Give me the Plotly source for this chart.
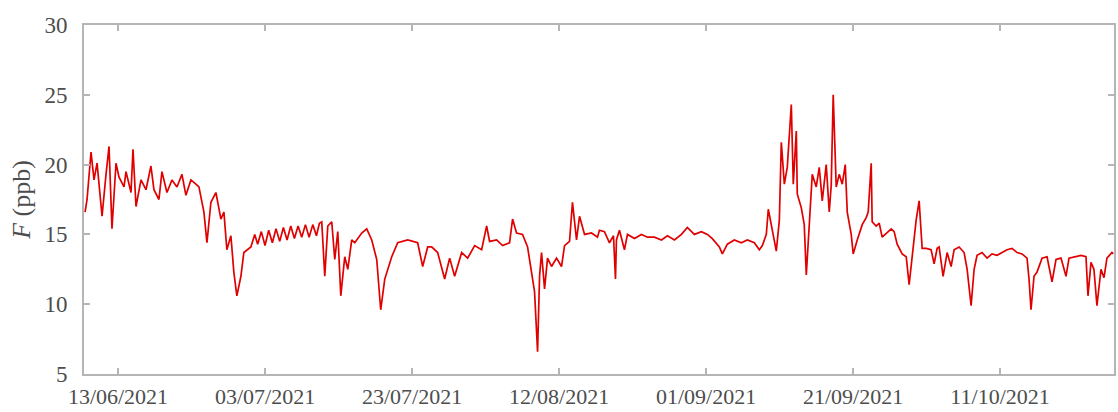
import pandas as pd
import plotly.graph_objects as go

# Time axis: offsets in days from 13/06/2021 00:00
day_offset = [
    -4.48, -4.21, -3.67, -3.26, -2.85, -2.17, -1.63, -1.22, -0.82, -0.27,
    0.14, 0.82, 1.09, 1.77, 2.04, 2.45, 3.13, 3.81, 4.48, 4.89,
    5.57, 5.98, 6.66, 7.34, 8.02, 8.70, 9.24, 9.92, 10.60, 11.01,
    11.69, 12.10, 12.64, 13.32, 14.00, 14.41, 14.81, 15.36, 15.76, 16.17,
    16.72, 17.12, 18.08, 18.60,
    19.00, 19.50, 20.00, 20.50, 21.00, 21.50, 22.00, 22.50, 23.00, 23.50,
    24.00, 24.50, 25.00, 25.50, 26.00, 26.50, 27.00, 27.40,
    27.72, 28.13, 28.54, 29.08, 29.49, 29.90, 30.31, 30.85, 31.26, 31.80,
    32.21, 33.16, 33.84, 34.52, 35.20, 35.74, 36.29, 37.24, 38.05, 39.41,
    40.77, 41.45, 42.13,
    42.67, 43.49, 44.44, 45.12, 45.80, 46.75, 47.57, 48.52, 49.47, 50.15,
    50.55, 51.51, 52.32, 53.27, 53.68, 54.22, 55.04, 55.72, 56.26, 56.67,
    57.08, 57.35, 57.62, 58.03, 58.44, 58.98, 59.66, 60.34, 60.75, 61.43,
    61.83, 62.38, 62.79, 63.47, 64.42, 65.23,
    65.50, 66.18, 66.86, 67.41, 67.68, 67.81, 68.22, 68.90, 69.31, 70.26,
    71.21, 72.03, 72.98, 73.93, 74.75, 75.70, 76.65, 77.46, 78.41, 79.37,
    80.18, 80.86, 81.81, 82.22, 82.90, 83.85, 84.80, 85.62, 86.57, 87.25,
    87.66, 88.20, 88.47,
    89.01, 89.56, 89.97, 90.24, 90.65, 91.05, 91.60, 91.87, 92.28, 92.41,
    92.96, 93.36, 93.64, 94.04, 94.45, 94.99, 95.40, 95.81, 96.35, 96.76,
    97.03, 97.30, 97.71, 98.12, 98.53, 98.94, 99.21, 99.75, 100.02, 100.57,
    101.25, 101.79, 102.06, 102.47, 102.60, 103.15, 103.56, 103.96, 104.51, 105.19,
    105.59, 106.00, 106.68, 107.23, 107.63, 108.04, 108.58, 108.99, 109.40, 109.94,
    110.62, 111.03, 111.44,
    111.71, 112.25, 112.80, 113.34, 113.75, 114.43, 115.11, 115.52, 116.06, 116.47,
    116.87, 117.55, 118.23, 118.91, 119.59, 120.27, 120.95, 121.63, 122.31, 122.99,
    123.67, 123.94, 124.21, 124.62, 125.03, 125.71, 126.39, 127.07, 127.61, 128.29,
    128.97, 129.38, 130.06, 131.01, 131.69, 131.96, 132.37, 132.77, 133.18, 133.73,
    134.14, 134.54, 135.22, 135.40,
]

# F (ppb) values
F_ppb = [
    16.6, 17.5, 20.9, 18.9, 20.1, 16.3, 19.3, 21.3, 15.4, 20.1,
    19.1, 18.4, 19.5, 18.0, 21.1, 17.0, 18.9, 18.2, 19.9, 18.2,
    17.5, 19.5, 18.0, 18.9, 18.4, 19.3, 17.8, 18.9, 18.6, 18.4,
    16.6, 14.4, 17.3, 18.0, 16.1, 16.6, 13.9, 14.9, 12.3, 10.6,
    12.0, 13.7, 14.1, 15.0,
    14.3, 15.2, 14.2, 15.3, 14.4, 15.4, 14.5, 15.5, 14.6, 15.6,
    14.7, 15.6, 14.8, 15.7, 14.8, 15.7, 14.9, 15.8,
    15.9, 12.0, 15.6, 15.9, 13.2, 15.2, 10.6, 13.4, 12.5, 14.6,
    14.4, 15.1, 15.4, 14.6, 13.2, 9.6, 11.8, 13.4, 14.4, 14.6,
    14.4, 12.7, 14.1,
    14.1, 13.7, 11.8, 13.3, 12.0, 13.7, 13.3, 14.2, 13.9, 15.6,
    14.5, 14.6, 14.2, 14.4, 16.1, 15.1, 15.0, 14.1, 12.3, 10.9,
    6.6, 12.0, 13.7, 11.1, 13.3, 12.7, 13.3, 12.7, 14.2, 14.5,
    17.3, 14.6, 16.3, 15.0, 15.1, 14.8,
    15.3, 15.2, 14.4, 14.9, 11.8, 14.6, 15.3, 13.9, 15.0, 14.7,
    15.0, 14.8, 14.8, 14.6, 14.9, 14.6, 15.0, 15.5, 15.0, 15.2,
    15.0, 14.7, 14.1, 13.6, 14.3, 14.6, 14.4, 14.6, 14.4, 13.9,
    14.2, 15.0, 16.8,
    15.4, 13.8, 16.0, 21.6, 18.6, 19.8, 24.3, 18.6, 22.4, 17.9,
    16.9, 15.7, 12.1, 15.7, 19.3, 18.4, 19.8, 17.4, 20.0, 16.6,
    18.5, 25.0, 18.4, 19.3, 18.6, 20.0, 16.6, 15.0, 13.6, 14.6,
    15.7, 16.2, 16.6, 20.1, 15.9, 15.6, 15.8, 14.8, 15.1, 15.4,
    15.2, 14.3, 13.6, 13.4, 11.4, 13.6, 16.0, 17.4, 14.0, 14.0,
    13.9, 12.9, 14.0,
    14.1, 12.0, 13.7, 12.7, 13.9, 14.1, 13.7, 12.5, 9.9, 12.5,
    13.5, 13.7, 13.3, 13.6, 13.5, 13.7, 13.9, 14.0, 13.7, 13.6,
    13.3, 11.8, 9.6, 12.0, 12.3, 13.3, 13.4, 11.6, 13.2, 13.3,
    12.0, 13.3, 13.4, 13.5, 13.4, 10.6, 13.0, 12.5, 9.9, 12.5,
    11.9, 13.3, 13.7, 13.6,
]

tick_dates = ["2021-06-13", "2021-07-03", "2021-07-23", "2021-08-12",
              "2021-09-01", "2021-09-21", "2021-10-11"]
tick_labels = ["13/06/2021", "03/07/2021", "23/07/2021", "12/08/2021",
               "01/09/2021", "21/09/2021", "11/10/2021"]
y_ticks = [5, 10, 15, 20, 25, 30]

start = pd.Timestamp("2021-06-13")
times = start + pd.to_timedelta(day_offset, unit="D")

fig = go.Figure()
fig.add_trace(go.Scatter(
    x=times, y=F_ppb, mode="lines",
    line=dict(color="#e00000", width=1.7),
    showlegend=False,
))

axis_color = "#b5b5b5"
text_color = "#4d4d4d"

fig.update_layout(
    width=1118, height=412,
    margin=dict(l=84, r=4, t=25, b=38),
    paper_bgcolor="white", plot_bgcolor="white",
    font=dict(family="Liberation Serif", size=22, color=text_color),
    xaxis=dict(
        range=["2021-06-08 09:00", "2021-10-26 12:00"],
        tickmode="array", tickvals=tick_dates, ticktext=tick_labels,
        tickfont=dict(size=22, color=text_color),
        ticks="inside", ticklen=6, tickcolor=axis_color, tickwidth=1.5,
        showline=True, linecolor=axis_color, linewidth=2, mirror="ticks",
        showgrid=False, zeroline=False, automargin=False,
        ticklabelstandoff=2,
    ),
    yaxis=dict(
        range=[5, 30],
        tickmode="array", tickvals=y_ticks,
        tickfont=dict(size=23, color=text_color),
        ticks="inside", ticklen=6, tickcolor=axis_color, tickwidth=1.5,
        showline=True, linecolor=axis_color, linewidth=2, mirror="ticks",
        showgrid=False, zeroline=False, automargin=False,
        ticklabelstandoff=10,
        title=dict(text="<i>F</i> (ppb)", font=dict(size=26, color=text_color), standoff=6),
    ),
)

fig.write_html("out.html")
